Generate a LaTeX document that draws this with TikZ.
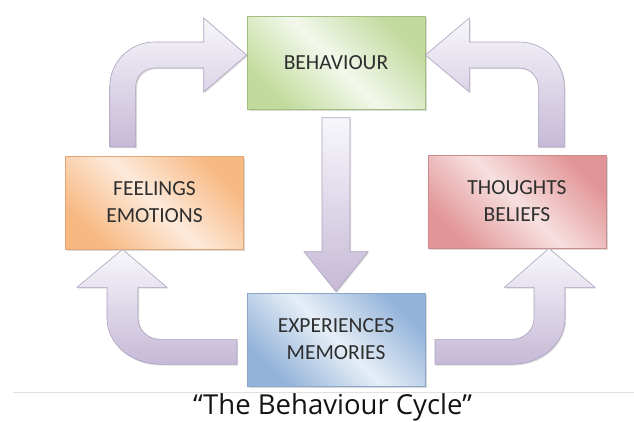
\documentclass[tikz,border=0pt]{standalone}
\usepackage{fontspec}
\setmainfont{Carlito}
\newfontfamily\titlefont{Open Sans}
\usetikzlibrary{shadows}

\definecolor{boxtext}{HTML}{2E2E2E}
\definecolor{behline}{HTML}{A3BE80}
\definecolor{behdark}{HTML}{C2DA9C}
\definecolor{behlight}{HTML}{F3F8EC}
\definecolor{feelline}{HTML}{E2A775}
\definecolor{feeldark}{HTML}{F7B882}
\definecolor{feellight}{HTML}{FDEADB}
\definecolor{thoughtline}{HTML}{CC8C8D}
\definecolor{thoughtdark}{HTML}{E29596}
\definecolor{thoughtlight}{HTML}{F7E0E0}
\definecolor{expline}{HTML}{8AA6C8}
\definecolor{expdark}{HTML}{93B3D9}
\definecolor{explight}{HTML}{E6EEF7}
\definecolor{arrowline}{HTML}{ABA2BC}
\definecolor{arrowtop}{HTML}{F8F7FB}
\definecolor{arrowbottom}{HTML}{C6B9D7}

\begin{document}
\begin{tikzpicture}[x=1pt, y=-1pt,
	box/.style n args={3}{rectangle, minimum width=178pt, minimum height=93pt,
		align=center, font=\fontsize{21.5}{27}\selectfont, text=boxtext,
		draw=#1, line width=0.6pt,
		top color=#2, bottom color=#2, middle color=#3, shading angle=-45,
		drop shadow={shadow xshift=1.5pt, shadow yshift=-1.5pt, opacity=.3}},
	blockarrow/.style={draw=arrowline, line width=0.6pt,
		top color=arrowtop, bottom color=arrowbottom,
		drop shadow={shadow xshift=1.2pt, shadow yshift=-1.2pt, opacity=.25}}]
  \useasboundingbox (0,0) rectangle (634,421);

  % the four stages
  \node[box={behline}{behdark}{behlight}] (beh) at (336,63) {BEHAVIOUR};
  \node[box={feelline}{feeldark}{feellight}] (feel) at (154.5,202.5) {FEELINGS\\EMOTIONS};
  \node[box={thoughtline}{thoughtdark}{thoughtlight}] (thought) at (517,201.5) {THOUGHTS\\BELIEFS};
  \node[box={expline}{expdark}{explight}] (exp) at (336,339.5) {EXPERIENCES\\MEMORIES};

  % behaviour -> experiences
  \path[blockarrow] ([yshift=1pt]exp.north) -- ++(-32,-40) -- ++(18,0) -- ++(0,-134)
    -- ++(28,0) -- ++(0,134) -- ++(18,0) -- cycle;

  % experiences -> feelings
  \path[blockarrow] ([xshift=-32pt]feel.south) -- ++(44.5,38) -- ++(-29,0) -- ++(0,31)
    arc[start angle=180, end angle=90, x radius=22, y radius=21] -- ++(77,0) -- ++(0,25) -- ++(-77,0)
    arc[start angle=90, end angle=180, x radius=53, y radius=46] -- ++(0,-31) -- ++(-30,0) -- cycle;

  % experiences -> thoughts
  \path[blockarrow] ([xshift=32pt]thought.south) -- ++(-44.5,39) -- ++(29.5,0) -- ++(0,31)
    arc[start angle=0, end angle=90, x radius=22, y radius=21] -- ++(-77,0) -- ++(0,25) -- ++(77,0)
    arc[start angle=90, end angle=0, x radius=53, y radius=46] -- ++(0,-31) -- ++(30,0) -- cycle;

  % feelings -> behaviour
  \path[blockarrow] ([yshift=8pt]beh.west) -- ++(-43,-37) -- ++(0,24) -- ++(-49,0)
    arc[start angle=270, end angle=180, radius=45] -- ++(0,60) -- ++(26,0) -- ++(0,-60)
    arc[start angle=180, end angle=270, radius=19] -- ++(49,0) -- ++(0,24) -- cycle;

  % thoughts -> behaviour
  \path[blockarrow] ([yshift=8pt]beh.east) -- ++(44,-37) -- ++(0,24) -- ++(50,0)
    arc[start angle=270, end angle=360, radius=45] -- ++(0,60) -- ++(-26,0) -- ++(0,-60)
    arc[start angle=0, end angle=-90, radius=19] -- ++(-50,0) -- ++(0,24) -- cycle;

  % caption
  \draw[black!12, line width=0.8pt] (13,392) -- (634,392);
  \node[anchor=base, font=\titlefont\fontsize{27.5}{31}\selectfont, text=black!92, inner sep=0pt]
    (caption) at (332.5,414.5) {“The Behaviour Cycle”};
\end{tikzpicture}
\end{document}
